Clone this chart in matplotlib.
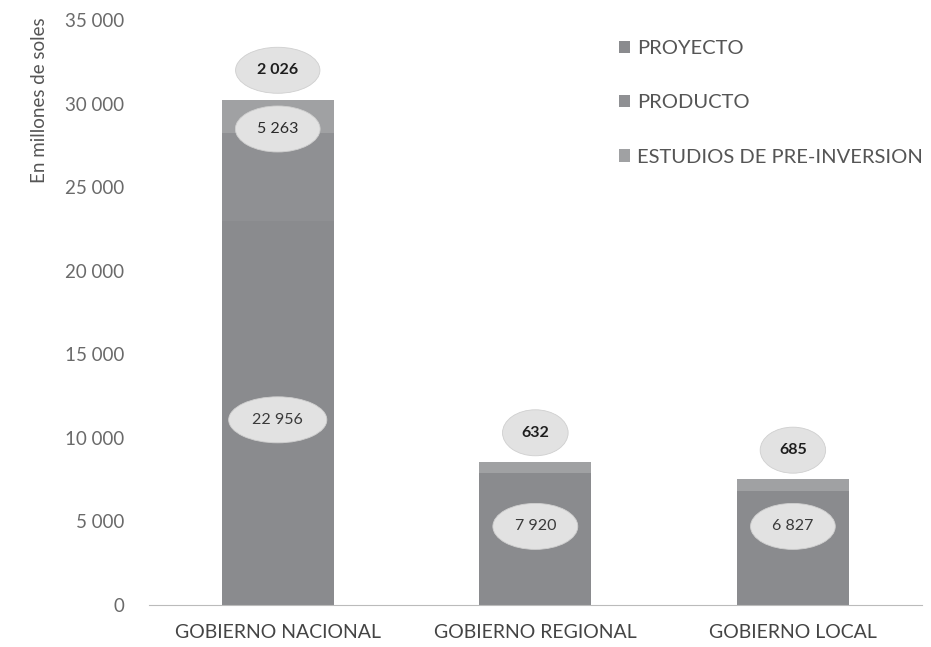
import matplotlib
matplotlib.use("Agg")
import matplotlib.pyplot as plt
import numpy as np

categories = ["GOBIERNO NACIONAL", "GOBIERNO REGIONAL", "GOBIERNO LOCAL"]
proyecto = [22956, 7920, 6827]
producto = [5263, 0, 0]
estudios = [2026, 632, 685]
series_names = ["PROYECTO", "PRODUCTO", "ESTUDIOS DE PRE-INVERSION"]
yticks = [0, 5000, 10000, 15000, 20000, 25000, 30000, 35000]
ytick_labels = ["0", "5 000", "10 000", "15 000", "20 000", "25 000", "30 000", "35 000"]

plt.rcParams['font.family'] = ['Lato', 'DejaVu Sans']

fig = plt.figure(figsize=(9.31, 6.47), dpi=100)
ax = fig.add_axes([0.160, 0.065, 0.830, 0.904])

x = np.arange(len(categories))
w = 0.435
colors = ["#8a8b8e", "#8f9093", "#a0a1a3"]
p = np.array(proyecto); pr = np.array(producto); es = np.array(estudios)
ax.bar(x, p, w, color=colors[0], label=series_names[0])
ax.bar(x, pr, w, bottom=p, color=colors[1], label=series_names[1])
ax.bar(x, es, w, bottom=p + pr, color=colors[2], label=series_names[2])

def fmt(v):
    return f"{v:,}".replace(",", " ")

bbox = dict(boxstyle="ellipse,pad=0.58", fc="#e2e2e2", ec="#cfcfcf", lw=0.6)
for i in range(len(categories)):
    ax.text(x[i], max(p[i] / 2, 4700) if p[i] < 10000 else p[i] / 2 - 400,
            fmt(p[i]), ha="center", va="center", fontsize=11.5,
            color="#3a3a3a", bbox=bbox)
    if pr[i] > 0:
        ax.text(x[i], p[i] + pr[i] * 1.05, fmt(pr[i]), ha="center", va="center",
                fontsize=11.5, color="#2a2a2a", bbox=bbox)
    total = p[i] + pr[i] + es[i]
    ax.text(x[i], total + 1750, fmt(es[i]), ha="center", va="center", fontsize=11.5,
            fontweight="bold", color="#1e1e1e", bbox=bbox)

ax.set_xlim(-0.5, 2.5)
ax.set_ylim(0, 35000)
ax.set_yticks(yticks)
ax.set_yticklabels(ytick_labels, fontsize=13.5, color="#6a6a6a")
ax.set_xticks(x)
ax.set_xticklabels(categories, fontsize=14, color="#444444")
ax.tick_params(axis="x", length=0, pad=14)
ax.tick_params(axis="y", length=0, pad=18)
for s in ["top", "right", "left"]:
    ax.spines[s].set_visible(False)
ax.spines["bottom"].set_color("#bbbbbb")

fig.text(40 / 931, 1 - 100 / 647, "En millones de soles", rotation=90, ha="center",
         va="center", fontsize=13.5, color="#555555")

leg = fig.legend(loc="upper left", bbox_to_anchor=(601 / 931, 1 - 22 / 647),
                 frameon=False, fontsize=14.5, labelspacing=1.85, handlelength=0.55,
                 handleheight=0.55, handletextpad=0.35, labelcolor="#555555")

fig.savefig("out.png", dpi=100)
